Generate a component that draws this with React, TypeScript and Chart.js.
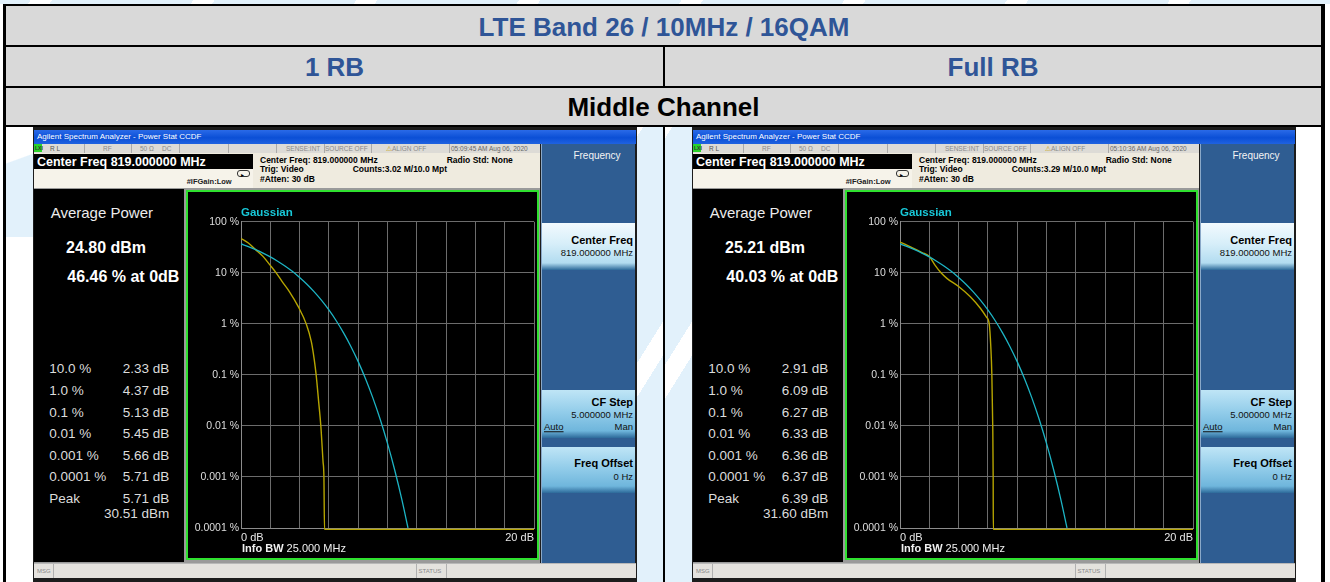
import React, { useEffect, useRef } from 'react';
import { Chart, registerables } from 'chart.js';
Chart.register(...registerables);

const FONT = '"Liberation Sans", Arial, sans-serif';

// ---- data ----
const tableTitle = 'LTE Band 26 / 10MHz / 16QAM';
const columnTitles = ['1 RB', 'Full RB'];
const rowTitle = 'Middle Channel';

const yTickValues = [100, 10, 1, 0.1, 0.01, 0.001, 0.0001];
const yTickLabels = ['100 %', '10 %', '1 %', '0.1 %', '0.01 %', '0.001 %', '0.0001 %'];
const xTickValues = [0, 20];
const xTickLabels = ['0 dB', '20 dB'];

const gaussianDb = [0, 0.5, 1, 1.5, 2, 2.5, 3, 3.5, 4, 4.5, 5, 5.5, 6, 6.5, 7, 7.5, 8, 8.5, 9, 9.5, 10, 10.5, 11, 11.4];
const gaussianPct = [36.8, 32.6, 28.4, 24.3, 20.5, 16.9, 13.6, 10.7, 8.1, 5.97, 4.23, 2.88, 1.87, 1.15, 0.666, 0.361, 0.182, 0.0843, 0.0355, 0.0135, 0.00454, 0.00134, 0.00034, 0.0001];

const rb1Db = [0, 0.5, 1, 1.5, 2, 2.4, 2.8, 3.3, 3.9, 4.45, 4.8, 5.0, 5.13, 5.3, 5.45, 5.6, 5.66, 5.7, 20];
const rb1Pct = [47, 38.5, 28.5, 21, 14, 10, 6.8, 4.3, 2.2, 1.0, 0.45, 0.2, 0.1, 0.03, 0.01, 0.002, 0.001, 0.000094, 0.000094];

const fullDb = [0, 0.5, 1, 1.5, 2, 2.4, 2.8, 3.2, 4.0, 4.8, 5.5, 5.9, 6.09, 6.2, 6.27, 6.33, 6.36, 6.37, 20];
const fullPct = [40, 34.5, 29.5, 25, 21, 14, 10, 7.8, 5.4, 3.4, 2.0, 1.35, 1.0, 0.35, 0.1, 0.01, 0.001, 0.000094, 0.000094];

const statLabels = ['10.0 %', '1.0 %', '0.1 %', '0.01 %', '0.001 %', '0.0001 %', 'Peak'];
const rb1Stats = ['2.33 dB', '4.37 dB', '5.13 dB', '5.45 dB', '5.66 dB', '5.71 dB', '5.71 dB'];
const fullStats = ['2.91 dB', '6.09 dB', '6.27 dB', '6.33 dB', '6.36 dB', '6.37 dB', '6.39 dB'];
const avgPower = ['24.80 dBm', '25.21 dBm'];
const pctAt0 = ['46.46 % at 0dB', '40.03 % at 0dB'];
const peakDbm = ['30.51 dBm', '31.60 dBm'];
const timeStamps = ['05:09:45 AM Aug 06, 2020', '05:10:36 AM Aug 06, 2020'];
const counts = ['Counts:3.02 M/10.0 Mpt', 'Counts:3.29 M/10.0 Mpt'];

const CYAN = '#1db4c4';
const YELLOW = '#b6a500';

type TP = { x: number; y: number; s: number; b?: boolean; c?: string; a?: 'l' | 'r' | 'c'; u?: boolean; children: React.ReactNode };
function T({ x, y, s, b, c, a, u, children }: TP) {
  const tx = a === 'r' ? 'translate(-100%,-50%)' : a === 'c' ? 'translate(-50%,-50%)' : 'translate(0,-50%)';
  return (
    <div style={{ position: 'absolute', left: x, top: y, transform: tx, fontSize: s, fontWeight: b ? 'bold' : 'normal', color: c || '#000', whiteSpace: 'nowrap', lineHeight: 1, fontFamily: FONT, textDecoration: u ? 'underline' : undefined }}>
      {children}
    </div>
  );
}

function Box(p: { x: number; y: number; w: number; h: number; bg: string; style?: React.CSSProperties; children?: React.ReactNode }) {
  return <div style={{ position: 'absolute', left: p.x, top: p.y, width: p.w, height: p.h, background: p.bg, boxSizing: 'border-box', ...(p.style || {}) }}>{p.children}</div>;
}

const infoBwPlugin = {
  id: 'infoBw',
  afterDraw(chart: any) {
    const ctx = chart.ctx;
    const left = chart.chartArea.left + 1;
    const y = chart.height - 9.5;
    ctx.save();
    ctx.textBaseline = 'middle';
    ctx.fillStyle = '#f0f0f0';
    ctx.font = `bold 11px ${FONT}`;
    ctx.fillText('Info BW', left, y);
    const w = ctx.measureText('Info BW ').width;
    ctx.font = `11px ${FONT}`;
    ctx.fillText('25.000 MHz', left + w, y);
    ctx.restore();
  },
};

function CcdfChart({ measDb, measPct }: { measDb: number[]; measPct: number[] }) {
  const ref = useRef<HTMLCanvasElement>(null);
  useEffect(() => {
    const chart = new Chart(ref.current as HTMLCanvasElement, {
      type: 'line',
      data: {
        datasets: [
          {
            data: gaussianDb.map((x, i) => ({ x, y: gaussianPct[i] })),
            borderColor: CYAN,
            borderWidth: 1.3,
            pointRadius: 0,
            cubicInterpolationMode: 'monotone',
          },
          {
            data: measDb.map((x, i) => ({ x, y: measPct[i] })),
            borderColor: YELLOW,
            borderWidth: 1.4,
            pointRadius: 0,
            cubicInterpolationMode: 'monotone',
            clip: { left: 0, top: 0, right: 0, bottom: 4 },
          },
        ],
      },
      options: {
        animation: false,
        responsive: false,
        maintainAspectRatio: false,
        layout: { padding: { left: 0, right: 2, top: 0, bottom: 0 } },
        plugins: {
          legend: { display: false },
          tooltip: { enabled: false },
          title: {
            display: true,
            text: 'Gaussian',
            align: 'start',
            fullSize: false,
            color: '#18c8d8',
            font: { family: FONT, size: 11.5, weight: 'bold' },
            padding: { top: 14, bottom: 2 },
          },
        },
        scales: {
          x: {
            type: 'linear',
            min: 0,
            max: 20,
            ticks: {
              stepSize: 2,
              autoSkip: false,
              maxRotation: 0,
              align: 'inner',
              color: '#e6e6e6',
              padding: 3,
              font: { family: FONT, size: 11 },
              callback: (v: any) => {
                const i = xTickValues.indexOf(Number(v));
                return i >= 0 ? xTickLabels[i] : '';
              },
            },
            grid: { color: '#6c6c6c', drawTicks: false, lineWidth: 1 },
            border: { color: '#8c8c8c' },
            afterFit: (s: any) => { s.height = 30; },
          },
          y: {
            type: 'logarithmic',
            min: 0.0001,
            max: 100,
            afterBuildTicks: (s: any) => { s.ticks = yTickValues.map((v) => ({ value: v })); },
            ticks: {
              color: '#dedede',
              padding: 2,
              font: { family: FONT, size: 10.5 },
              callback: (v: any) => {
                const i = yTickValues.findIndex((t) => Math.abs(t - Number(v)) / t < 1e-6);
                return i >= 0 ? yTickLabels[i] : '';
              },
            },
            grid: { color: '#6c6c6c', drawTicks: false, lineWidth: 1 },
            border: { color: '#8c8c8c' },
            afterFit: (s: any) => { s.width = 53; },
          },
        },
      } as any,
      plugins: [infoBwPlugin],
    });
    return () => chart.destroy();
  }, []);
  return <canvas ref={ref} width={349} height={366} style={{ position: 'absolute', left: 0, top: 0, width: 349, height: 366, background: '#000' }} />;
}

function Screenshot({ ox, k, measDb, measPct, stats }: { ox: number; k: number; measDb: number[]; measPct: number[]; stats: string[] }) {
  const sepX = [49.7, 97, 145, 194, 242, 289.7, 337, 415];
  const rowY = [242, 264, 285.7, 307.3, 329, 350.3, 372.3];
  const statusC = '#8a8a8a';
  return (
    <div style={{ position: 'absolute', left: ox, top: 127, width: 604, height: 455, background: '#1c1c1c' }}>
      {/* title bar */}
      <Box x={1} y={3} w={602} h={14} bg="linear-gradient(#2a6ae8, #0b4fd6 55%, #1f62e0)">
        <T x={3} y={7} s={8} c="#fff">Agilent Spectrum Analyzer - Power Stat CCDF</T>
      </Box>
      {/* status row */}
      <Box x={1} y={17} w={506} h={9} bg="#dddbd6">
        <Box x={0} y={0} w={8} h={8} bg="#2ad42a"><T x={1} y={4} s={5} b c="#333">LXI</T></Box>
        <T x={16} y={4.5} s={6.5} c="#555">R L</T>
        {sepX.map((x, i) => <Box key={i} x={x} y={0} w={1} h={9} bg="#aaa" />)}
        <T x={69} y={4.5} s={6.5} c={statusC}>RF</T>
        <T x={106} y={4.5} s={6.5} c={statusC}>50 Ω</T>
        <T x={128} y={4.5} s={6.5} c={statusC}>DC</T>
        <T x={252} y={4.5} s={6.5} c={statusC}>SENSE:INT</T>
        <T x={291} y={4.5} s={6.5} c={statusC}>SOURCE OFF</T>
        <T x={352} y={4.5} s={6.5} c={statusC}><span style={{ color: '#c8a000' }}>⚠</span>ALIGN OFF</T>
        <T x={417} y={4.5} s={6.5} c="#666">{timeStamps[k]}</T>
      </Box>
      {/* measurement bar */}
      <Box x={1} y={26} w={506} h={35} bg="#efebdf">
        <Box x={0} y={1} w={219} h={15} bg="#000">
          <T x={3} y={7.5} s={12.5} b c="#fff">Center Freq 819.000000 MHz</T>
        </Box>
        <Box x={0} y={16} w={219} h={19} bg="#f6f3ea" />
        <Box x={203} y={17} w={13} h={7} bg="transparent" style={{ border: '1px solid #333', borderRadius: 3 }} />
        <T x={207} y={22} s={6} c="#000">▸</T>
        <T x={152.7} y={29} s={7.5} b c="#222">#IFGain:Low</T>
        <T x={226} y={7} s={8.5} b>Center Freq: 819.000000 MHz</T>
        <T x={226} y={16.3} s={8.5} b>Trig: Video</T>
        <T x={226} y={26} s={8.5} b>#Atten: 30 dB</T>
        <T x={318.7} y={16.3} s={8.5} b>{counts[k]}</T>
        <T x={412.7} y={7} s={8.5} b>Radio Std: None</T>
      </Box>
      {/* main area */}
      <Box x={1} y={61} w={506} h={375} bg="#9a9a9a">
        <Box x={0} y={1} w={150} h={373} bg="#000">
          <T x={16.7} y={23.3} s={15} c="#ececec">Average Power</T>
          <T x={32} y={58.8} s={16} b c="#fff">{avgPower[k]}</T>
          <T x={33.3} y={87.5} s={16} b c="#fff">{pctAt0[k]}</T>
          {statLabels.map((l, i) => (
            <React.Fragment key={i}>
              <T x={15.3} y={rowY[i] - 62} s={13.5} c="#dcdcdc">{l}</T>
              <T x={135.3} y={rowY[i] - 62} s={13.5} c="#dcdcdc" a="r">{stats[i]}</T>
            </React.Fragment>
          ))}
          <T x={135.3} y={387.3 - 62} s={13.5} c="#dcdcdc" a="r">{peakDbm[k]}</T>
        </Box>
        <Box x={152} y={2} w={353} h={370} bg="#000" style={{ border: '2px solid #2fe02f' }}>
          <CcdfChart measDb={measDb} measPct={measPct} />
        </Box>
      </Box>
      {/* softkeys */}
      <Box x={508} y={17} w={94} h={419} bg="#2f5d92" style={{ borderLeft: '1px solid #8aa8c8' }}>
        <T x={55} y={12} s={10} c="#f4f4f4" a="c">Frequency</T>
        <Box x={0} y={79} w={93} h={47} bg="linear-gradient(#f2fafe, #d6eef9 45%, #b2dcf0 85%, #2d6a9a)">
          <T x={91} y={17} s={11} b a="r">Center Freq</T>
          <T x={91} y={30.3} s={9.5} a="r" c="#111">819.000000 MHz</T>
        </Box>
        <Box x={0} y={246} w={93} h={48} bg="linear-gradient(#bfe5f6, #93cdea 45%, #6fb6dc 85%, #2d6a9a)">
          <T x={91} y={11.7} s={11} b a="r">CF Step</T>
          <T x={91} y={25} s={9.5} a="r" c="#111">5.000000 MHz</T>
          <T x={2} y={36.7} s={9.5} u c="#111">Auto</T>
          <T x={91} y={36.7} s={9.5} a="r" c="#111">Man</T>
        </Box>
        <Box x={0} y={303} w={93} h={46} bg="linear-gradient(#bfe5f6, #93cdea 45%, #6fb6dc 85%, #2d6a9a)">
          <T x={91} y={16.3} s={11} b a="r">Freq Offset</T>
          <T x={91} y={29.7} s={9.5} a="r" c="#111">0 Hz</T>
        </Box>
      </Box>
      {/* status bar */}
      <Box x={1} y={436} w={602} h={15} bg="#e4e2de" style={{ borderTop: '1px solid #b8b8b8' }}>
        <T x={3} y={7} s={6} c="#888">MSG</T>
        <Box x={19} y={0} w={1} h={14} bg="#b0b0b0" />
        <Box x={382} y={0} w={1} h={14} bg="#b0b0b0" />
        <T x={384.5} y={7} s={6} c="#888">STATUS</T>
        <Box x={412} y={0} w={1} h={14} bg="#b0b0b0" />
      </Box>
    </div>
  );
}

export default function App() {
  const cellGray = '#d9d9d9';
  const blue = '#2f5597';
  const stripes = 'repeating-linear-gradient(-58deg, #e2f1fb 0px, #e2f1fb 120px, #ffffff 120px, #ffffff 138px)';
  return (
    <div style={{ position: 'absolute', left: 0, top: 0, width: 1330, height: 582, overflow: 'hidden', background: '#fff', fontFamily: FONT }}>
      <Box x={0} y={0} w={1330} h={4} bg={stripes} />
      {/* table frame */}
      <Box x={3} y={4} w={1322} h={578} bg="#000" />
      <Box x={6} y={6} w={1315} h={39} bg={cellGray}>
        <T x={658} y={20.5} s={26} b c={blue} a="c">{tableTitle}</T>
      </Box>
      <Box x={6} y={47} w={657} h={39} bg={cellGray}>
        <T x={328.5} y={20} s={26} b c={blue} a="c">{columnTitles[0]}</T>
      </Box>
      <Box x={665} y={47} w={656} h={39} bg={cellGray}>
        <T x={328} y={20} s={26} b c={blue} a="c">{columnTitles[1]}</T>
      </Box>
      <Box x={6} y={88} w={1315} h={37} bg={cellGray}>
        <T x={657.5} y={18.5} s={26} b c="#000" a="c">{rowTitle}</T>
      </Box>
      {/* image cells */}
      <Box x={6} y={127} w={657} h={455} bg="#fff" />
      <Box x={665} y={127} w={656} h={455} bg="#fff" />
      <Box x={636} y={127} w={27} h={455} bg={stripes} />
      <Box x={665} y={127} w={27} h={455} bg={stripes} />
      <Box x={6} y={127} w={27} h={110} bg="linear-gradient(160deg, #ffffff 0%, #ffffff 30%, #e2f1fb 31%, #e2f1fb 100%)" />
      <Screenshot ox={33} k={0} measDb={rb1Db} measPct={rb1Pct} stats={rb1Stats} />
      <Screenshot ox={692} k={1} measDb={fullDb} measPct={fullPct} stats={fullStats} />
    </div>
  );
}
